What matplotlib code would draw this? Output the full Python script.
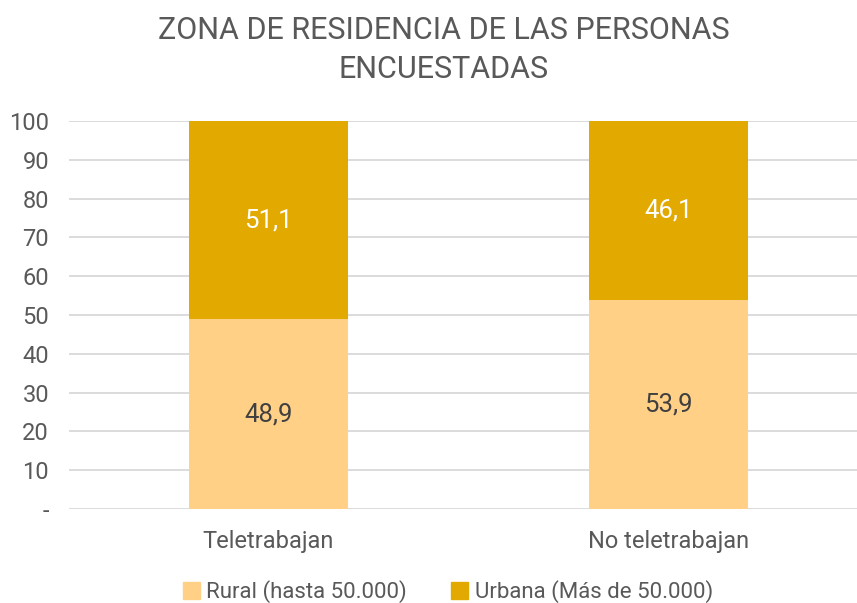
import matplotlib
matplotlib.use("Agg")
import matplotlib.pyplot as plt
from matplotlib.patches import Patch

categories = ["Teletrabajan", "No teletrabajan"]
rural = [48.9, 53.9]
urbana = [51.1, 46.1]
rural_labels = ["48,9", "53,9"]
urbana_labels = ["51,1", "46,1"]
yticks = [0, 10, 20, 30, 40, 50, 60, 70, 80, 90, 100]
ytick_labels = ["-", "10", "20", "30", "40", "50", "60", "70", "80", "90", "100"]
series_names = ["Rural (hasta 50.000)", "Urbana (Más de 50.000)"]

plt.rcParams['font.family'] = ['Roboto', 'DejaVu Sans']
TXT = "#595959"
C_RURAL = "#FFD085"
C_URB = "#E2AA00"

W, H = 857, 603
fig = plt.figure(figsize=(W/100, H/100), dpi=100)
ax = fig.add_axes([68.5/W, (H-509)/H, 800/W, 388/H])

x = list(range(len(categories)))
bw = 0.3975
ax.bar(x, rural, width=bw, color=C_RURAL, zorder=2)
ax.bar(x, urbana, bottom=rural, width=bw, color=C_URB, zorder=2)

for i in x:
    ax.text(i, rural[i]/2, rural_labels[i], ha='center', va='center', color="#404040", fontsize=18.5)
    ax.text(i, rural[i] + urbana[i]/2, urbana_labels[i], ha='center', va='center', color="white", fontsize=18.5)

ax.set_xlim(-0.5, 1.5)
ax.set_ylim(0, 100)
ax.set_yticks(yticks)
ax.set_yticklabels(ytick_labels)
ax.set_xticks(x)
ax.set_xticklabels(categories)
ax.yaxis.grid(True, color="#D9D9D9", linewidth=1.3, zorder=0)
ax.set_axisbelow(True)
for s in ax.spines.values():
    s.set_visible(False)
ax.tick_params(axis='both', length=0, labelsize=17, colors=TXT)
ax.tick_params(axis='y', pad=14)
ax.tick_params(axis='x', pad=15)

fig.text(444/W, 1 - 50/H, "ZONA DE RESIDENCIA DE LAS PERSONAS\nENCUESTADAS", ha='center', va='center',
         fontsize=22, color=TXT, linespacing=1.45)

handles = [Patch(color=C_RURAL), Patch(color=C_URB)]
fig.legend(handles, series_names, loc='center', bbox_to_anchor=(448/W, 1 - 592/H), ncol=2, frameon=False,
           fontsize=16, labelcolor=TXT, handlelength=0.75, handleheight=0.75, handletextpad=0.3,
           columnspacing=2.0)

fig.savefig("out.png", dpi=100)
